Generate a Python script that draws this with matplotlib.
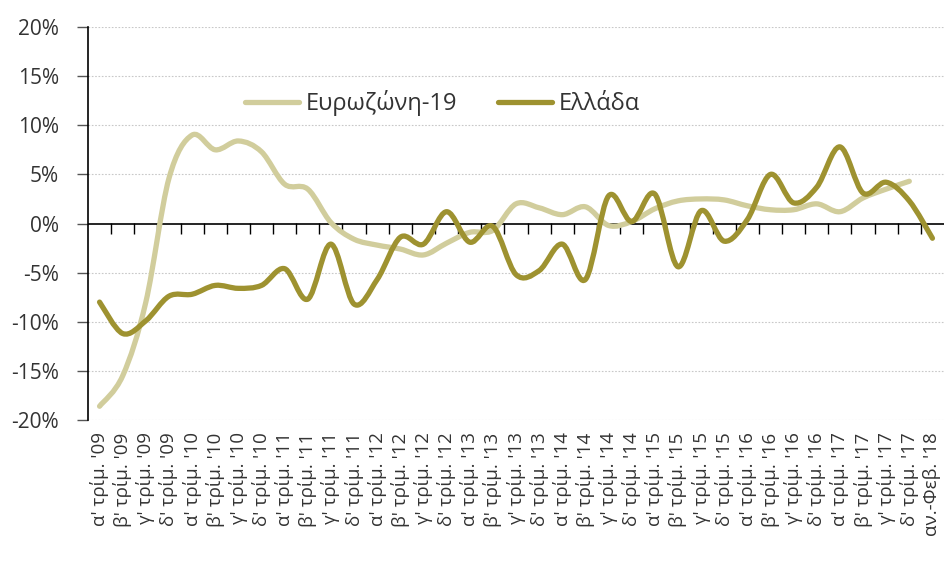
import matplotlib
matplotlib.use("Agg")
import matplotlib.pyplot as plt
from matplotlib.path import Path
from matplotlib.patches import PathPatch
from matplotlib.lines import Line2D
import numpy as np

plt.rcParams['font.family'] = ['Open Sans', 'DejaVu Sans']

quarters = ["α'", "β'", "γ'", "δ'"]
years = ["09", "10", "11", "12", "13", "14", "15", "16", "17"]
labels = [f"{q} τρίμ. '{y}" for y in years for q in quarters] + ["αν.-Φεβ. '18"]

euro = [-18.6, -15.5, -8.0, 4.6, 9.0, 7.5, 8.4, 7.3, 4.0, 3.5, 0.1, -1.6,
        -2.2, -2.6, -3.2, -2.0, -0.9, -0.7, 2.0, 1.6, 0.9, 1.7, -0.2, 0.2,
        1.5, 2.3, 2.5, 2.4, 1.8, 1.4, 1.4, 2.0, 1.2, 2.6, 3.5, 4.3]
greece = [-8.0, -11.2, -9.9, -7.4, -7.2, -6.3, -6.6, -6.3, -4.6, -7.7, -2.1, -8.2,
          -5.7, -1.4, -2.1, 1.2, -1.9, -0.3, -5.2, -4.8, -2.1, -5.7, 2.8, 0.2,
          3.0, -4.4, 1.3, -1.8, 0.4, 5.0, 2.1, 3.7, 7.8, 3.1, 4.2, 2.3, -1.5]

names = ["Ευρωζώνη-19", "Ελλάδα"]
colors = ["#d1cd9c", "#9e9230"]

fig = plt.figure(figsize=(9.44, 5.68), dpi=100)
ax = fig.add_axes([88/944, 1-420/568, (944-88)/944, (420-27)/568])


def smooth_path(xs, ys):
    pts = np.column_stack([xs, ys]).astype(float)
    n = len(pts)
    verts = [pts[0]]
    codes = [Path.MOVETO]
    for i in range(n - 1):
        p0 = pts[i - 1] if i > 0 else pts[i]
        p1 = pts[i]
        p2 = pts[i + 1]
        p3 = pts[i + 2] if i + 2 < n else pts[i + 1]
        c1 = p1 + (p2 - p0) / 6.0
        c2 = p2 - (p3 - p1) / 6.0
        verts += [c1, c2, p2]
        codes += [Path.CURVE4] * 3
    return Path(verts, codes)


for vals, col in zip([euro, greece], colors):
    xs = np.arange(len(vals))
    patch = PathPatch(smooth_path(xs, vals), facecolor='none', edgecolor=col,
                      lw=3.8, capstyle='round', joinstyle='round', zorder=3)
    ax.add_patch(patch)

ax.set_xlim(-0.5, len(labels) - 0.5)
ax.set_ylim(-20, 20)

yt = np.arange(-20, 21, 5)
ax.set_yticks(yt)
ax.set_yticklabels([f"{v}%" for v in yt])
for v in yt:
    if v != 0:
        ax.axhline(v, color='#c8c8c8', lw=0.8, ls=(0, (1.5, 1.5)), zorder=1)
ax.axhline(0, color='black', lw=1.2, zorder=2)

ax.set_xticks(np.arange(len(labels)))
ax.set_xticklabels(labels, rotation=90, ha='center', va='top')
ax.tick_params(axis='x', length=0, pad=9, labelsize=13.5, labelcolor='#333333')
ax.tick_params(axis='y', length=8, width=1, direction='out', pad=13,
               labelsize=15, labelcolor='#333333', color='#555555')

for s in ['top', 'right', 'bottom']:
    ax.spines[s].set_visible(False)
ax.spines['left'].set_color('black')
ax.spines['left'].set_linewidth(1.2)

sec = ax.secondary_xaxis(0.5)
sec.set_xticks(np.arange(1, len(labels)) - 0.5)
sec.set_xticklabels([])
sec.tick_params(axis='x', length=8, width=1, direction='in', color='black')
for s in sec.spines.values():
    s.set_visible(False)

handles = [Line2D([], [], color=c, lw=3.8, solid_capstyle='round') for c in colors]
ax.legend(handles, names, loc='center left', bbox_to_anchor=(0.183, 0.807),
          ncol=2, frameon=False, fontsize=17, handlelength=2.3,
          handletextpad=0.3, columnspacing=1.7, borderpad=0, borderaxespad=0,
          labelcolor='#333333')

fig.savefig("out.png", dpi=100)
